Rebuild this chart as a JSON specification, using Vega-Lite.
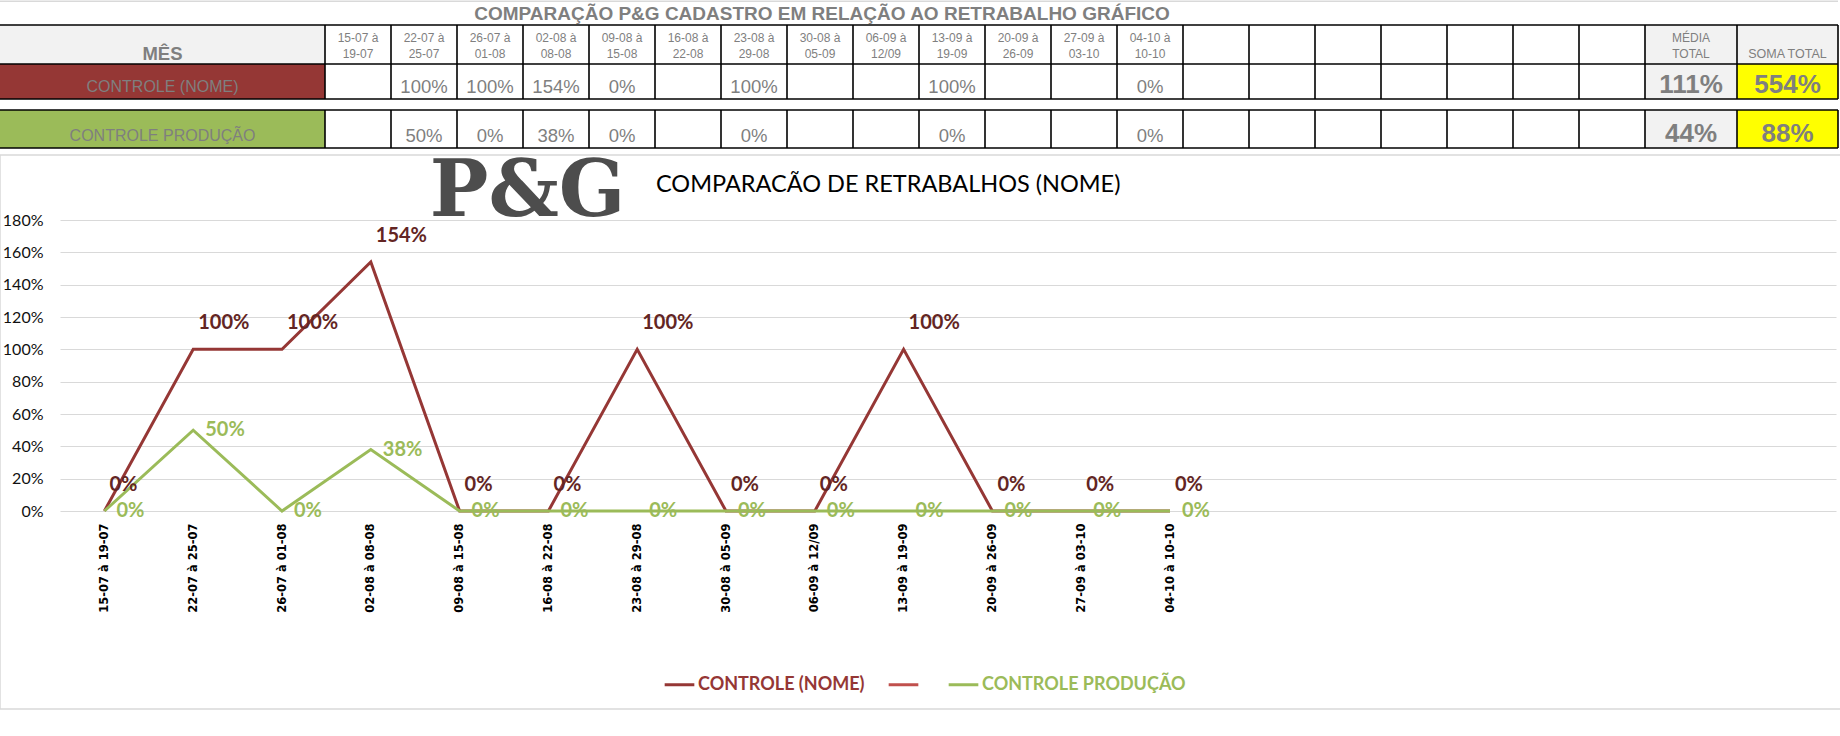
{
  "$schema": "https://vega.github.io/schema/vega-lite/v6.json",
  "autosize": "none",
  "width": 1776,
  "height": 291,
  "padding": {"left": 60, "top": 220, "right": 4, "bottom": 225},
  "background": "#ffffff",
  "config": {"view": {"stroke": null}, "text": {"font": "Liberation Sans"}},
  "datasets": {
    "serie": [
      {"semana": "15-07 à 19-07", "serie": "CONTROLE (NOME)", "valor": 0},
      {"semana": "22-07 à 25-07", "serie": "CONTROLE (NOME)", "valor": 1},
      {"semana": "26-07 à 01-08", "serie": "CONTROLE (NOME)", "valor": 1},
      {"semana": "02-08 à 08-08", "serie": "CONTROLE (NOME)", "valor": 1.54},
      {"semana": "09-08 à 15-08", "serie": "CONTROLE (NOME)", "valor": 0},
      {"semana": "16-08 à 22-08", "serie": "CONTROLE (NOME)", "valor": 0},
      {"semana": "23-08 à 29-08", "serie": "CONTROLE (NOME)", "valor": 1},
      {"semana": "30-08 à 05-09", "serie": "CONTROLE (NOME)", "valor": 0},
      {"semana": "06-09 à 12/09", "serie": "CONTROLE (NOME)", "valor": 0},
      {"semana": "13-09 à 19-09", "serie": "CONTROLE (NOME)", "valor": 1},
      {"semana": "20-09 à 26-09", "serie": "CONTROLE (NOME)", "valor": 0},
      {"semana": "27-09 à 03-10", "serie": "CONTROLE (NOME)", "valor": 0},
      {"semana": "04-10 à 10-10", "serie": "CONTROLE (NOME)", "valor": 0},
      {"semana": "15-07 à 19-07", "serie": "CONTROLE PRODUÇÃO", "valor": 0},
      {"semana": "22-07 à 25-07", "serie": "CONTROLE PRODUÇÃO", "valor": 0.5},
      {"semana": "26-07 à 01-08", "serie": "CONTROLE PRODUÇÃO", "valor": 0},
      {"semana": "02-08 à 08-08", "serie": "CONTROLE PRODUÇÃO", "valor": 0.38},
      {"semana": "09-08 à 15-08", "serie": "CONTROLE PRODUÇÃO", "valor": 0},
      {"semana": "16-08 à 22-08", "serie": "CONTROLE PRODUÇÃO", "valor": 0},
      {"semana": "23-08 à 29-08", "serie": "CONTROLE PRODUÇÃO", "valor": 0},
      {"semana": "30-08 à 05-09", "serie": "CONTROLE PRODUÇÃO", "valor": 0},
      {"semana": "06-09 à 12/09", "serie": "CONTROLE PRODUÇÃO", "valor": 0},
      {"semana": "13-09 à 19-09", "serie": "CONTROLE PRODUÇÃO", "valor": 0},
      {"semana": "20-09 à 26-09", "serie": "CONTROLE PRODUÇÃO", "valor": 0},
      {"semana": "27-09 à 03-10", "serie": "CONTROLE PRODUÇÃO", "valor": 0},
      {"semana": "04-10 à 10-10", "serie": "CONTROLE PRODUÇÃO", "valor": 0}
    ],
    "fundos": [
      {"tipo": "cinza", "c": 0, "c2": 1, "r": 1, "r2": 2},
      {"tipo": "vermelho", "c": 0, "c2": 1, "r": 2, "r2": 3},
      {"tipo": "verde", "c": 0, "c2": 1, "r": 4, "r2": 5},
      {"tipo": "cinza", "c": 21, "c2": 23, "r": 1, "r2": 2},
      {"tipo": "cinza", "c": 21, "c2": 22, "r": 2, "r2": 3},
      {"tipo": "cinza", "c": 21, "c2": 22, "r": 4, "r2": 5},
      {"tipo": "amarelo", "c": 22, "c2": 23, "r": 2, "r2": 3},
      {"tipo": "amarelo", "c": 22, "c2": 23, "r": 4, "r2": 5}
    ],
    "horizontais": [
      {"c": 0, "c2": 23, "r": 1},
      {"c": 0, "c2": 23, "r": 2},
      {"c": 0, "c2": 23, "r": 3},
      {"c": 0, "c2": 23, "r": 4},
      {"c": 0, "c2": 23, "r": 5}
    ],
    "verticais": [
      {"r": 1, "r2": 3, "c": [1, 2, 3, 4, 5, 6, 7, 8, 9, 10, 11, 12, 13, 14, 15, 16, 17, 18, 19, 20, 21, 22, 23]},
      {"r": 4, "r2": 5, "c": [1, 2, 3, 4, 5, 6, 7, 8, 9, 10, 11, 12, 13, 14, 15, 16, 17, 18, 19, 20, 21, 22, 23]}
    ],
    "textos": [
      {"estilo": "mes", "c": 0, "r": 1, "t": "MÊS"},
      {"estilo": "cab", "c": 1, "r": 1, "t": ["15-07 à", "19-07"]},
      {"estilo": "cab", "c": 2, "r": 1, "t": ["22-07 à", "25-07"]},
      {"estilo": "cab", "c": 3, "r": 1, "t": ["26-07 à", "01-08"]},
      {"estilo": "cab", "c": 4, "r": 1, "t": ["02-08 à", "08-08"]},
      {"estilo": "cab", "c": 5, "r": 1, "t": ["09-08 à", "15-08"]},
      {"estilo": "cab", "c": 6, "r": 1, "t": ["16-08 à", "22-08"]},
      {"estilo": "cab", "c": 7, "r": 1, "t": ["23-08 à", "29-08"]},
      {"estilo": "cab", "c": 8, "r": 1, "t": ["30-08 à", "05-09"]},
      {"estilo": "cab", "c": 9, "r": 1, "t": ["06-09 à", "12/09"]},
      {"estilo": "cab", "c": 10, "r": 1, "t": ["13-09 à", "19-09"]},
      {"estilo": "cab", "c": 11, "r": 1, "t": ["20-09 à", "26-09"]},
      {"estilo": "cab", "c": 12, "r": 1, "t": ["27-09 à", "03-10"]},
      {"estilo": "cab", "c": 13, "r": 1, "t": ["04-10 à", "10-10"]},
      {"estilo": "cab", "c": 21, "r": 1, "t": ["MÉDIA", "TOTAL"]},
      {"estilo": "soma", "c": 22, "r": 1, "t": "SOMA TOTAL"},
      {"estilo": "rotulo", "c": 0, "r": 2, "t": "CONTROLE (NOME)"},
      {"estilo": "rotulo", "c": 0, "r": 4, "t": "CONTROLE PRODUÇÃO"},
      {"estilo": "valor", "c": 2, "r": 2, "t": "100%"},
      {"estilo": "valor", "c": 3, "r": 2, "t": "100%"},
      {"estilo": "valor", "c": 4, "r": 2, "t": "154%"},
      {"estilo": "valor", "c": 5, "r": 2, "t": "0%"},
      {"estilo": "valor", "c": 7, "r": 2, "t": "100%"},
      {"estilo": "valor", "c": 10, "r": 2, "t": "100%"},
      {"estilo": "valor", "c": 13, "r": 2, "t": "0%"},
      {"estilo": "valor", "c": 2, "r": 4, "t": "50%"},
      {"estilo": "valor", "c": 3, "r": 4, "t": "0%"},
      {"estilo": "valor", "c": 4, "r": 4, "t": "38%"},
      {"estilo": "valor", "c": 5, "r": 4, "t": "0%"},
      {"estilo": "valor", "c": 7, "r": 4, "t": "0%"},
      {"estilo": "valor", "c": 10, "r": 4, "t": "0%"},
      {"estilo": "valor", "c": 13, "r": 4, "t": "0%"},
      {"estilo": "total", "c": 21, "r": 2, "t": "111%"},
      {"estilo": "total", "c": 22, "r": 2, "t": "554%"},
      {"estilo": "total", "c": 21, "r": 4, "t": "44%"},
      {"estilo": "total", "c": 22, "r": 4, "t": "88%"}
    ],
    "titulos": [
      {"tipo": "tabela", "t": "COMPARAÇÃO P&G  CADASTRO EM RELAÇÃO AO RETRABALHO GRÁFICO"},
      {"tipo": "grafico", "t": "COMPARACÃO DE RETRABALHOS  (NOME)"},
      {"tipo": "logo", "t": "P&G"}
    ]
  },
  "layer": [
    {
      "data": {"name": "serie"},
      "encoding": {
        "x": {
          "field": "semana", "type": "ordinal", "sort": null,
          "scale": {"type": "point", "padding": 0.5, "domain": ["15-07 à 19-07", "22-07 à 25-07", "26-07 à 01-08", "02-08 à 08-08", "09-08 à 15-08", "16-08 à 22-08", "23-08 à 29-08", "30-08 à 05-09", "06-09 à 12/09", "13-09 à 19-09", "20-09 à 26-09", "27-09 à 03-10", "04-10 à 10-10", "_1", "_2", "_3", "_4", "_5", "_6", "_7"]},
          "axis": {"title": null, "labelAngle": 270, "labelFont": "DejaVu Sans", "labelFontWeight": "bold", "labelFontSize": 11.5, "labelColor": "#000000", "labelPadding": 12, "ticks": false, "domain": false, "grid": false, "labelOverlap": false, "labelExpr": "indexof(datum.value, '_') === 0 ? '' : datum.value"}
        },
        "y": {
          "field": "valor", "type": "quantitative",
          "scale": {"domain": [0, 1.8], "nice": false, "zero": true},
          "axis": {"title": null, "values": [0, 0.2, 0.4, 0.6, 0.8, 1, 1.2, 1.4, 1.6, 1.8], "format": ".0%", "labelFont": "Lato", "labelFontSize": 16, "labelColor": "#111111", "labelPadding": 17, "ticks": false, "domain": false, "grid": true, "gridColor": "#d9d9d9", "gridWidth": 1}
        }
      },
      "layer": [
        {
          "mark": {"type": "line", "strokeWidth": 3},
          "encoding": {
            "color": {
              "field": "serie", "type": "nominal",
              "scale": {"domain": ["CONTROLE (NOME)", " ", "CONTROLE PRODUÇÃO"], "range": ["#953735", "#C0504D", "#9BBB59"]},
              "legend": {"orient": "none", "legendX": 603, "legendY": 448, "direction": "horizontal", "title": null, "symbolType": "stroke", "symbolStrokeWidth": 3, "symbolSize": 880, "labelFont": "Lato", "labelFontSize": 18, "labelFontWeight": "bold", "labelOffset": 2, "columnPadding": 17, "labelLimit": 400, "labelExpr": "datum.label === ' ' ? '' : datum.label", "labelColor": {"expr": "datum.value === 'CONTROLE PRODUÇÃO' ? '#9BBB59' : '#953735'"}}
            }
          }
        },
        {
          "transform": [{"filter": "datum.serie === 'CONTROLE (NOME)'"}],
          "mark": {"type": "text", "align": "left", "baseline": "middle", "dx": 5, "dy": -26, "font": "Lato", "fontSize": 20, "fontWeight": "bold", "color": "#632523"},
          "encoding": {"text": {"field": "valor", "type": "quantitative", "format": ".0%"}}
        },
        {
          "transform": [{"filter": "datum.serie === 'CONTROLE PRODUÇÃO'"}],
          "mark": {"type": "text", "align": "left", "baseline": "middle", "dx": 12, "dy": 0, "font": "Lato", "fontSize": 20, "fontWeight": "bold", "color": "#9BBB59"},
          "encoding": {"text": {"field": "valor", "type": "quantitative", "format": ".0%"}}
        }
      ]
    },
    {
      "layer": [
        {
          "data": {"name": "fundos"},
          "mark": {"type": "rect"},
          "encoding": {
            "x": {"field": "c", "type": "quantitative", "axis": null, "scale": {"type": "linear", "domain": [0, 1, 21, 22, 23], "range": [-60, 265, 1585, 1677, 1778], "nice": false, "zero": false}},
            "x2": {"field": "c2"},
            "y": {"field": "r", "type": "quantitative", "axis": null, "scale": {"type": "linear", "domain": [0, 1, 2, 3, 4, 5, 6, 7, 8], "range": [-220, -195, -156, -121, -110, -72, -65, 0, 489], "nice": false, "zero": false}},
            "y2": {"field": "r2"},
            "fill": {"field": "tipo", "type": "nominal", "legend": null, "scale": {"domain": ["cinza", "vermelho", "verde", "amarelo"], "range": ["#f2f2f2", "#953735", "#9bbb59", "#ffff00"]}}
          }
        },
        {
          "data": {"values": [{"moldura": "grafico"}]},
          "mark": {"type": "rect", "fill": "transparent", "stroke": "#d9d9d9", "strokeWidth": 1.5},
          "encoding": {
            "x": {"datum": 0, "type": "quantitative", "axis": null},
            "x2": {"datum": 23.06},
            "y": {"datum": 6, "type": "quantitative", "axis": null},
            "y2": {"datum": 8}
          }
        },
        {
          "data": {"values": [{"moldura": "topo"}]},
          "mark": {"type": "rule", "color": "#d9d9d9", "strokeWidth": 1.5},
          "encoding": {
            "x": {"datum": 0, "type": "quantitative", "axis": null},
            "x2": {"datum": 23},
            "y": {"datum": 0.05, "type": "quantitative", "axis": null}
          }
        },
        {
          "data": {"name": "horizontais"},
          "mark": {"type": "rule", "color": "#000000", "strokeWidth": 1.6},
          "encoding": {
            "x": {"field": "c", "type": "quantitative", "axis": null},
            "x2": {"field": "c2"},
            "y": {"field": "r", "type": "quantitative", "axis": null}
          }
        },
        {
          "data": {"name": "verticais"},
          "transform": [{"flatten": ["c"]}],
          "mark": {"type": "rule", "color": "#000000", "strokeWidth": 1.6},
          "encoding": {
            "x": {"field": "c", "type": "quantitative", "axis": null},
            "y": {"field": "r", "type": "quantitative", "axis": null},
            "y2": {"field": "r2"}
          }
        },
        {
          "data": {"name": "textos"},
          "transform": [{"filter": "datum.estilo === 'cab'"}, {"calculate": "datum.c + 0.5", "as": "cx"}],
          "mark": {"type": "text", "align": "center", "baseline": "alphabetic", "fontSize": 12, "lineHeight": 16.5, "dy": 16.5, "color": "#7f7f7f"},
          "encoding": {
            "x": {"field": "cx", "type": "quantitative", "axis": null},
            "y": {"field": "r", "type": "quantitative", "axis": null},
            "text": {"field": "t"}
          }
        },
        {
          "data": {"name": "textos"},
          "transform": [{"filter": "datum.estilo === 'soma'"}, {"calculate": "datum.c + 0.5", "as": "cx"}, {"calculate": "datum.r + 1", "as": "rb"}],
          "mark": {"type": "text", "align": "center", "baseline": "alphabetic", "fontSize": 12.5, "dy": -6, "color": "#7f7f7f"},
          "encoding": {
            "x": {"field": "cx", "type": "quantitative", "axis": null},
            "y": {"field": "rb", "type": "quantitative", "axis": null},
            "text": {"field": "t"}
          }
        },
        {
          "data": {"name": "textos"},
          "transform": [{"filter": "datum.estilo === 'mes'"}, {"calculate": "datum.c + 0.5", "as": "cx"}, {"calculate": "datum.r + 1", "as": "rb"}],
          "mark": {"type": "text", "align": "center", "baseline": "alphabetic", "fontSize": 18.5, "fontWeight": "bold", "dy": -4, "color": "#7f7f7f"},
          "encoding": {
            "x": {"field": "cx", "type": "quantitative", "axis": null},
            "y": {"field": "rb", "type": "quantitative", "axis": null},
            "text": {"field": "t"}
          }
        },
        {
          "data": {"name": "textos"},
          "transform": [{"filter": "datum.estilo === 'rotulo'"}, {"calculate": "datum.c + 0.5", "as": "cx"}, {"calculate": "datum.r + 1", "as": "rb"}],
          "mark": {"type": "text", "align": "center", "baseline": "alphabetic", "fontSize": 16, "dy": -7, "color": "#7f7f7f"},
          "encoding": {
            "x": {"field": "cx", "type": "quantitative", "axis": null},
            "y": {"field": "rb", "type": "quantitative", "axis": null},
            "text": {"field": "t"}
          }
        },
        {
          "data": {"name": "textos"},
          "transform": [{"filter": "datum.estilo === 'valor'"}, {"calculate": "datum.c + 0.5", "as": "cx"}, {"calculate": "datum.r + 1", "as": "rb"}],
          "mark": {"type": "text", "align": "center", "baseline": "alphabetic", "fontSize": 18.5, "dy": -6, "color": "#7f7f7f"},
          "encoding": {
            "x": {"field": "cx", "type": "quantitative", "axis": null},
            "y": {"field": "rb", "type": "quantitative", "axis": null},
            "text": {"field": "t"}
          }
        },
        {
          "data": {"name": "textos"},
          "transform": [{"filter": "datum.estilo === 'total'"}, {"calculate": "datum.c + 0.5", "as": "cx"}, {"calculate": "datum.r + 1", "as": "rb"}],
          "mark": {"type": "text", "align": "center", "baseline": "alphabetic", "fontSize": 26, "fontWeight": "bold", "dy": -6, "color": "#7f7f7f"},
          "encoding": {
            "x": {"field": "cx", "type": "quantitative", "axis": null},
            "y": {"field": "rb", "type": "quantitative", "axis": null},
            "text": {"field": "t"}
          }
        },
        {
          "data": {"name": "titulos"},
          "transform": [{"filter": "datum.tipo === 'tabela'"}],
          "mark": {"type": "text", "align": "center", "baseline": "middle", "fontSize": 19, "fontWeight": "bold", "color": "#7f7f7f"},
          "encoding": {
            "x": {"datum": 8.53, "type": "quantitative", "axis": null},
            "y": {"datum": 0.54, "type": "quantitative", "axis": null},
            "text": {"field": "t"}
          }
        },
        {
          "data": {"name": "titulos"},
          "transform": [{"filter": "datum.tipo === 'grafico'"}],
          "mark": {"type": "text", "align": "left", "baseline": "alphabetic", "font": "Lato", "fontSize": 23.5, "color": "#000000"},
          "encoding": {
            "x": {"datum": 6.015, "type": "quantitative", "axis": null},
            "y": {"datum": 6.565, "type": "quantitative", "axis": null},
            "text": {"field": "t"}
          }
        },
        {
          "data": {"name": "titulos"},
          "transform": [{"filter": "datum.tipo === 'logo'"}],
          "mark": {"type": "text", "align": "center", "baseline": "alphabetic", "font": "DejaVu Serif", "fontSize": 78, "fontWeight": "bold", "color": "#4d4d4d"},
          "encoding": {
            "x": {"datum": 4.07, "type": "quantitative", "axis": null},
            "y": {"datum": 6.94, "type": "quantitative", "axis": null},
            "text": {"field": "t"}
          }
        }
      ]
    }
  ],
  "resolve": {"scale": {"x": "independent", "y": "independent"}}
}
